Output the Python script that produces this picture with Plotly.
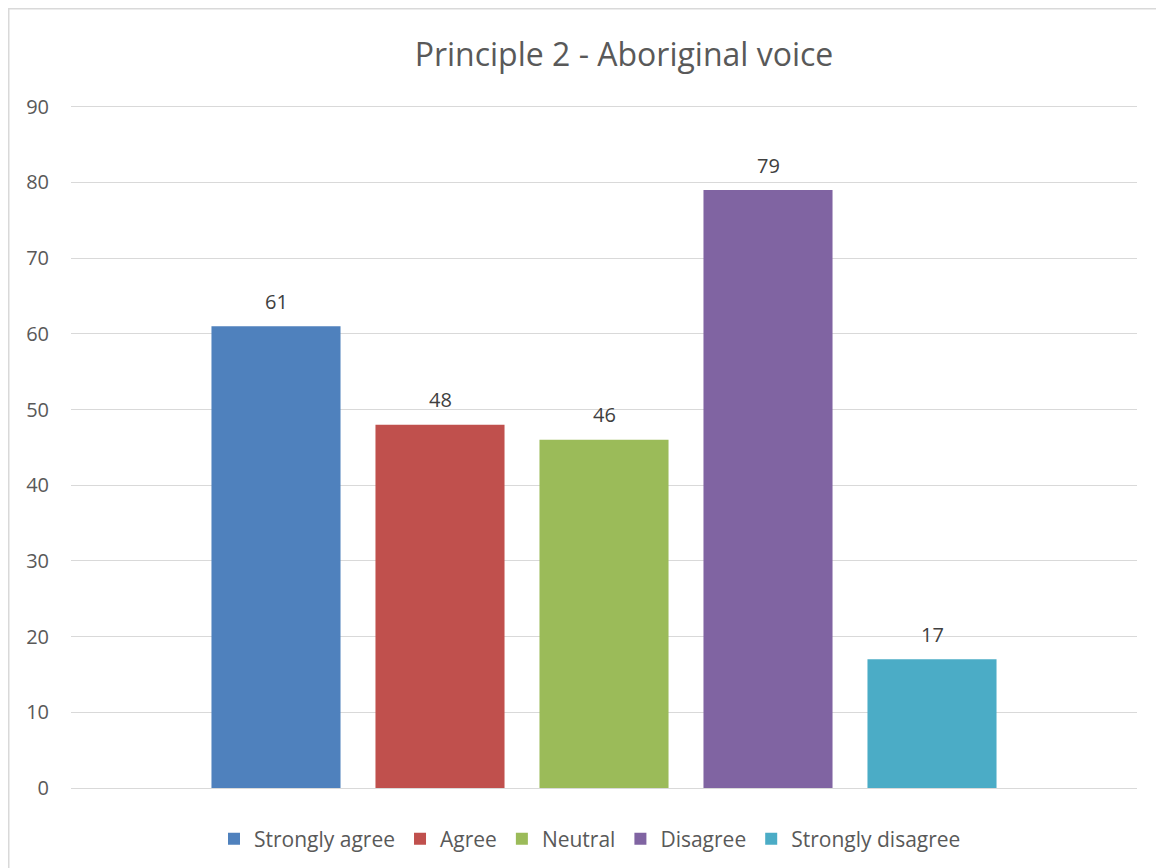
import plotly.graph_objects as go

categories = ["Strongly agree", "Agree", "Neutral", "Disagree", "Strongly disagree"]
values = [61, 48, 46, 79, 17]
colors = ["#4F81BD", "#C0504D", "#9BBB59", "#8064A2", "#4BACC6"]
y_ticks = [0, 10, 20, 30, 40, 50, 60, 70, 80, 90]
title_text = "Principle 2 - Aboriginal voice"

FONT = "Open Sans, sans-serif"

fig = go.Figure()
for cat, val, col in zip(categories, values, colors):
    fig.add_trace(go.Bar(x=[cat], y=[val], name=cat, marker=dict(color=col, line=dict(width=0)),
                         width=0.787, hoverinfo="x+y"))
    fig.add_annotation(x=cat, y=val, text=str(val), showarrow=False, yanchor="middle", yshift=25,
                       font=dict(family=FONT, size=20, color="#404040"))

# page is drawn with an 8px body offset; positions below are in figure coords
W, H = 1164, 868
L, R, T, B = 63, 35, 95, 88
pw, ph = W - L - R, H - T - B
y_top = 90.5

fig.update_layout(
    width=W, height=H,
    margin=dict(l=L, r=R, t=T, b=B),
    paper_bgcolor="white", plot_bgcolor="white",
    barmode="overlay",
    showlegend=True,
    title=dict(text=title_text, x=616 / W, xanchor="center",
               y=1 - 47 / H, yanchor="middle",
               font=dict(family=FONT, size=32, color="#595959")),
    xaxis=dict(type="category", categoryorder="array", categoryarray=categories,
               range=[-1.25, 5.25], showticklabels=False, showgrid=False, zeroline=False,
               showline=False, ticks=""),
    yaxis=dict(range=[0, y_top], tickvals=y_ticks, showgrid=True, gridcolor="#d9d9d9", gridwidth=1,
               zeroline=True, zerolinecolor="#d9d9d9", zerolinewidth=1, showline=False,
               ticks="", ticklabelstandoff=21,
               tickfont=dict(family=FONT, size=20, color="#595959")),
    legend=dict(orientation="h", x=(582 - L) / pw, xanchor="center", y=(780 - 831) / ph, yanchor="middle",
                font=dict(family=FONT, size=21, color="#595959"), itemwidth=30, tracegroupgap=0,
                traceorder="normal"),
    shapes=[dict(type="rect", xref="paper", yref="paper",
                 x0=(0.75 - L) / pw, x1=(1175 - L) / pw,
                 y0=(780 - 880) / ph, y1=1 + (T - 0.75) / ph,
                 line=dict(color="#d9d9d9", width=1.5), fillcolor="rgba(0,0,0,0)", layer="below")],
)

fig.write_html("out.html")
